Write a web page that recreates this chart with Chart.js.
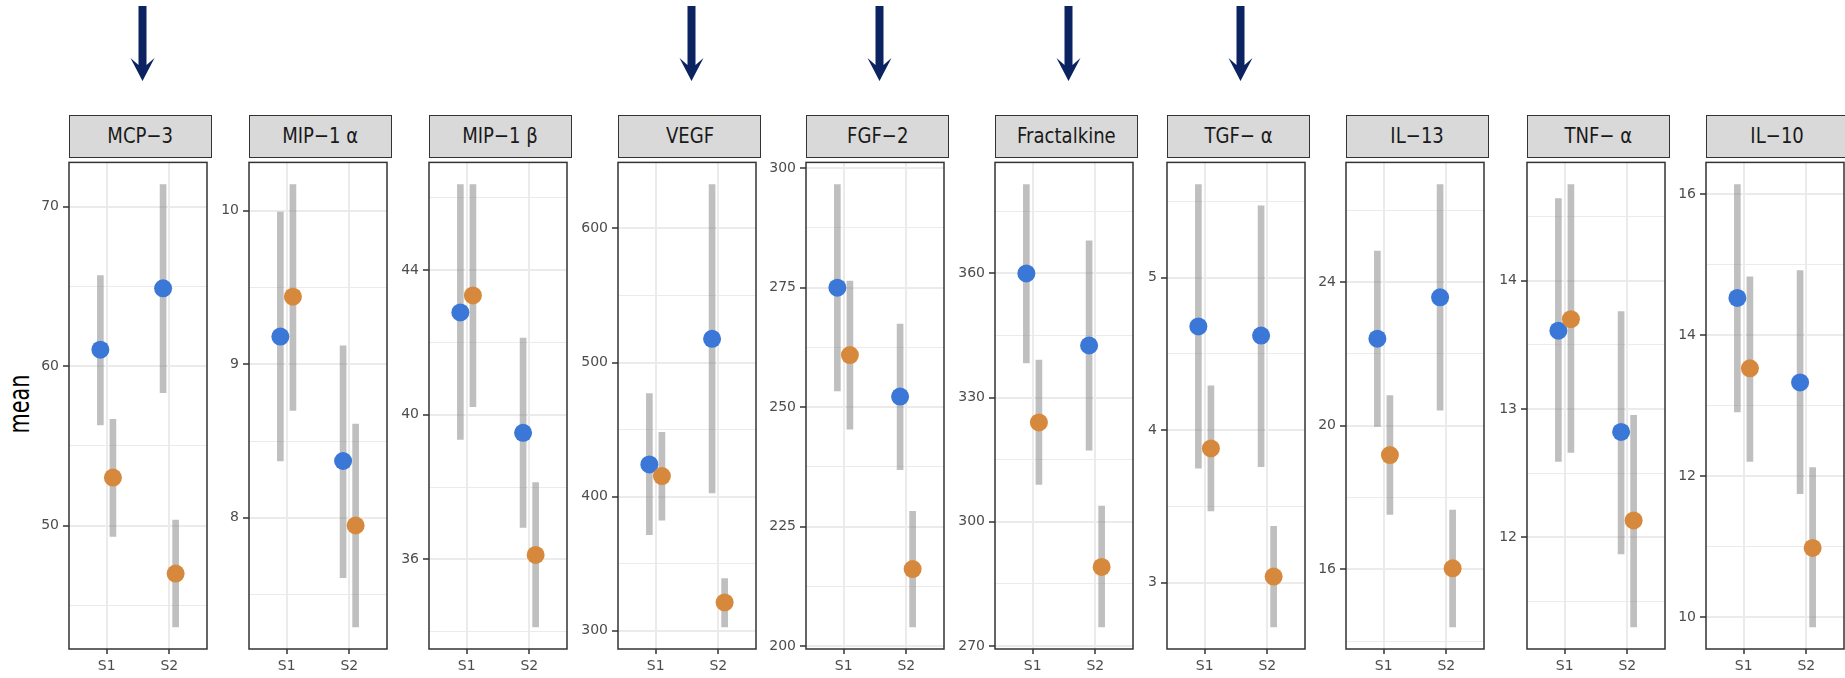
<!DOCTYPE html>
<html>
<head>
<meta charset="utf-8">
<script src="https://cdn.jsdelivr.net/npm/chart.js@4.4.1/dist/chart.umd.min.js"></script>
<style>
  html, body { margin: 0; padding: 0; background: #fff; }
  #wrap { position: relative; width: 1845px; height: 678px; overflow: hidden; font-family: "DejaVu Sans", sans-serif; }
  #wrap canvas { position: absolute; }
  .strip {
    position: absolute; box-sizing: border-box; background: #d9d9d9;
    border: 1.5px solid #333; color: #1a1a1a; font-size: 21px;
    display: flex; align-items: center; justify-content: center; white-space: nowrap;
  }
  .strip span { display: inline-block; transform: scaleX(0.86); }
  #ytitle {
    position: absolute; left: 20px; top: 404px; white-space: nowrap;
    font-size: 28px; line-height: 1; color: #000;
    transform: translate(-50%, -50%) rotate(-90deg) scaleX(0.74);
  }
  #arrows { position: absolute; left: 0; top: 0; }
</style>
</head>
<body>
<div id="wrap">
  <svg id="arrows" width="1845" height="100"></svg>
  <div id="ytitle">mean</div>
</div>
<script>
// analytes, one panel each
const analytes = ['MCP−3', 'MIP−1 α', 'MIP−1 β', 'VEGF', 'FGF−2', 'Fractalkine', 'TGF− α', 'IL−13', 'TNF− α', 'IL−10'];
const stages = ['S1', 'S2'];
// panels marked with an arrow on top
const highlighted = ['MCP−3', 'VEGF', 'FGF−2', 'Fractalkine', 'TGF− α'];

// blue group: [S1, S2] per analyte
const groupAMean = [[61.03, 64.88], [9.18, 8.37], [42.83, 39.50], [424.0, 517.7], [275.0, 252.2], [360.0, 342.6], [4.68, 4.62], [22.42, 23.57], [13.61, 12.82], [14.53, 13.33]];
const groupALow  = [[56.32, 58.33], [8.37, 7.61], [39.32, 36.88], [371.5, 402.8], [253.4, 236.9], [338.4, 317.3], [3.75, 3.76], [19.98, 20.43], [12.59, 11.87], [12.91, 11.75]];
const groupAHigh = [[65.68, 71.39], [9.99, 9.12], [46.37, 42.12], [476.9, 632.8], [296.6, 267.4], [381.5, 367.9], [5.61, 5.47], [24.86, 26.71], [14.64, 13.76], [16.14, 14.92]];

// orange group
const groupBMean = [[53.01, 46.99], [9.44, 7.95], [43.30, 36.12], [415.3, 321.0], [260.9, 216.1], [324.0, 289.1], [3.88, 3.04], [19.18, 16.03], [13.70, 12.13], [13.53, 10.98]];
const groupBLow  = [[49.32, 43.65], [8.70, 7.29], [40.22, 34.13], [382.4, 302.8], [245.4, 204.0], [309.0, 274.6], [3.47, 2.71], [17.53, 14.40], [12.66, 11.30], [12.21, 9.86]];
const groupBHigh = [[56.67, 50.34], [10.17, 8.61], [46.37, 38.12], [447.9, 338.9], [276.4, 228.2], [339.1, 303.8], [4.29, 3.37], [20.84, 17.65], [14.75, 12.95], [14.83, 12.12]];

// labelled y ticks per panel
const yTicks = [[50, 60, 70], [8, 9, 10], [36, 40, 44], [300, 400, 500, 600], [200, 225, 250, 275, 300], [270, 300, 330, 360], [3, 4, 5], [16, 20, 24], [12, 13, 14], [10, 12, 14, 16]];

// layout
const plotLefts = [69, 249, 429, 618, 806, 995, 1167, 1346, 1527, 1706];
const PLOT_W = 143, PLOT_TOP = 157, PLOT_BOTTOM = 649;
const STRIP_TOP = 114.5;
const Y_AXIS_W = 48, PAD_R = 4, CANVAS_TOP = 150, PAGE_H = 678;
const BLUE = '#3a77d6', ORANGE = '#d6893c', ERR = 'rgba(128,128,128,0.5)';
const GRID = '#ebebeb', DARK = '#333333', TICK_TXT = '#4d4d4d';
const FONT = '"DejaVu Sans", sans-serif';
const DODGE = 0.1;

const wrap = document.getElementById('wrap');

const panelFrame = {
  id: 'panelFrame',
  afterDraw(chart) {
    const {ctx, chartArea: a} = chart;
    ctx.save();
    ctx.strokeStyle = DARK;
    ctx.lineWidth = 1.5;
    ctx.strokeRect(a.left, a.top, a.right - a.left, a.bottom - a.top);
    ctx.restore();
  }
};

const drawPanel = (i) => {
  // ggplot style range: data span + 5% each side
  const lo = Math.min(...groupALow[i], ...groupBLow[i]);
  const hi = Math.max(...groupAHigh[i], ...groupBHigh[i]);
  const yMin = lo - 0.05 * (hi - lo);
  const yMax = hi + 0.05 * (hi - lo);

  const majors = yTicks[i];
  const step = majors[1] - majors[0];
  const allTicks = [];
  for (let v = majors[0] - step * 1.5; v <= majors[majors.length - 1] + step * 1.5 + 1e-9; v += step / 2) {
    const r = Math.round(v * 1000) / 1000;
    if (r >= yMin && r <= yMax) allTicks.push(r);
  }
  const isMajor = (v) => majors.some((m) => Math.abs(m - v) < 1e-6);

  const pts = (mean, off) => mean[i].map((m, k) => ({x: k + 1 + off, y: m}));
  const bars = (low, high, off) => low[i].map((l, k) => ({x: k + 1 + off, y: [l, high[i][k]]}));

  const canvas = document.createElement('canvas');
  const cw = Y_AXIS_W + PLOT_W + PAD_R;
  const ch = PAGE_H - CANVAS_TOP;
  canvas.width = cw;
  canvas.height = ch;
  canvas.style.left = (plotLefts[i] - Y_AXIS_W) + 'px';
  canvas.style.top = CANVAS_TOP + 'px';
  canvas.style.width = cw + 'px';
  canvas.style.height = ch + 'px';
  wrap.appendChild(canvas);

  new Chart(canvas, {
    type: 'scatter',
    data: {
      datasets: [
        {type: 'bar', data: bars(groupALow, groupAHigh, -DODGE), backgroundColor: ERR, barThickness: 6, grouped: false, borderWidth: 0, order: 3},
        {type: 'bar', data: bars(groupBLow, groupBHigh, DODGE), backgroundColor: ERR, barThickness: 6, grouped: false, borderWidth: 0, order: 2},
        {type: 'scatter', data: pts(groupAMean, -DODGE), backgroundColor: BLUE, pointRadius: 9, borderWidth: 0, order: 1},
        {type: 'scatter', data: pts(groupBMean, DODGE), backgroundColor: ORANGE, pointRadius: 9, borderWidth: 0, order: 0},
      ],
    },
    options: {
      responsive: false,
      animation: false,
      devicePixelRatio: 1,
      events: [],
      layout: {padding: {top: PLOT_TOP - CANVAS_TOP, right: PAD_R, left: 0, bottom: 0}},
      plugins: {legend: {display: false}, tooltip: {enabled: false}},
      scales: {
        x: {
          type: 'linear',
          min: 0.4,
          max: 2.6,
          offset: false,
          afterFit: (s) => { s.height = PAGE_H - PLOT_BOTTOM; },
          ticks: {
            stepSize: 1,
            includeBounds: false,
            callback: (v) => stages[Math.round(v) - 1] || '',
            color: TICK_TXT,
            font: {family: FONT, size: 14},
            padding: 4,
            autoSkip: false,
            maxRotation: 0,
          },
          grid: {offset: false, color: GRID, lineWidth: 2, tickColor: DARK, tickLength: 5, tickWidth: 1.5},
          border: {display: false},
        },
        y: {
          type: 'linear',
          min: yMin,
          max: yMax,
          afterBuildTicks: (s) => { s.ticks = allTicks.map((v) => ({value: v})); },
          afterFit: (s) => { s.width = Y_AXIS_W; },
          ticks: {
            callback: (v) => (isMajor(v) ? String(v) : ''),
            color: TICK_TXT,
            font: {family: FONT, size: 14},
            padding: 4,
            autoSkip: false,
          },
          grid: {
            offset: false,
            color: GRID,
            lineWidth: (ctx) => (ctx.tick && isMajor(ctx.tick.value) ? 2 : 1),
            tickColor: (ctx) => (ctx.tick && isMajor(ctx.tick.value) ? DARK : 'rgba(0,0,0,0)'),
            tickLength: 6,
            tickWidth: 1.5,
          },
          border: {display: false},
        },
      },
    },
    plugins: [panelFrame],
  });

  const strip = document.createElement('div');
  strip.className = 'strip';
  strip.style.left = plotLefts[i] + 'px';
  strip.style.top = STRIP_TOP + 'px';
  strip.style.width = PLOT_W + 'px';
  strip.style.height = (PLOT_TOP - STRIP_TOP + 1) + 'px';
  strip.innerHTML = '<span></span>';
  strip.firstChild.textContent = analytes[i];
  wrap.appendChild(strip);
};

analytes.forEach((_, i) => drawPanel(i));

// arrows above highlighted panels
const svg = document.getElementById('arrows');
highlighted.forEach((name) => {
  const i = analytes.indexOf(name);
  const c = plotLefts[i] + PLOT_W / 2 + 2;
  const p = [[c - 4, 6], [c + 4, 6], [c + 4, 65], [c + 12, 58], [c, 81], [c - 12, 58], [c - 4, 65]];
  const poly = document.createElementNS('http://www.w3.org/2000/svg', 'polygon');
  poly.setAttribute('points', p.map((q) => q.join(',')).join(' '));
  poly.setAttribute('fill', '#0b2360');
  svg.appendChild(poly);
});
</script>
</body>
</html>
